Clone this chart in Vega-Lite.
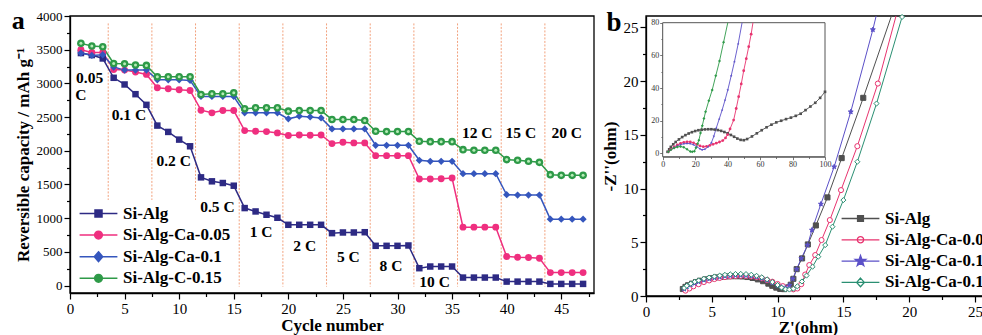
{
"$schema": "https://vega.github.io/schema/vega-lite/v6.json",
"width": 982, "height": 335, "padding": 0,
"autosize": {"type": "none"},
"background": "white",
"config": {
  "view": {"stroke": null},
  "axis": {"grid": false, "domainColor": "black", "tickColor": "black", "labelColor": "black", "titleColor": "black", "labelFont": "Liberation Serif", "titleFont": "Liberation Serif", "titleFontWeight": "bold", "domainWidth": 1.3, "tickWidth": 1.2, "labelOverlap": false, "labelFlush": false}
},
"datasets": {
  "rate": [
{"cycle":1,"series":"Si-Alg","cap":3450},{"cycle":2,"series":"Si-Alg","cap":3420},{"cycle":3,"series":"Si-Alg","cap":3370},{"cycle":4,"series":"Si-Alg","cap":3083},{"cycle":5,"series":"Si-Alg","cap":2984},{"cycle":6,"series":"Si-Alg","cap":2840},{"cycle":7,"series":"Si-Alg","cap":2682},{"cycle":8,"series":"Si-Alg","cap":2374},{"cycle":9,"series":"Si-Alg","cap":2280},{"cycle":10,"series":"Si-Alg","cap":2166},{"cycle":11,"series":"Si-Alg","cap":2067},{"cycle":12,"series":"Si-Alg","cap":1606},{"cycle":13,"series":"Si-Alg","cap":1547},{"cycle":14,"series":"Si-Alg","cap":1522},{"cycle":15,"series":"Si-Alg","cap":1482},{"cycle":16,"series":"Si-Alg","cap":1150},{"cycle":17,"series":"Si-Alg","cap":1100},{"cycle":18,"series":"Si-Alg","cap":1051},{"cycle":19,"series":"Si-Alg","cap":1006},{"cycle":20,"series":"Si-Alg","cap":902},{"cycle":21,"series":"Si-Alg","cap":902},{"cycle":22,"series":"Si-Alg","cap":902},{"cycle":23,"series":"Si-Alg","cap":902},{"cycle":24,"series":"Si-Alg","cap":778},{"cycle":25,"series":"Si-Alg","cap":788},{"cycle":26,"series":"Si-Alg","cap":788},{"cycle":27,"series":"Si-Alg","cap":792},{"cycle":28,"series":"Si-Alg","cap":590},{"cycle":29,"series":"Si-Alg","cap":590},{"cycle":30,"series":"Si-Alg","cap":590},{"cycle":31,"series":"Si-Alg","cap":595},{"cycle":32,"series":"Si-Alg","cap":258},{"cycle":33,"series":"Si-Alg","cap":283},{"cycle":34,"series":"Si-Alg","cap":283},{"cycle":35,"series":"Si-Alg","cap":283},{"cycle":36,"series":"Si-Alg","cap":119},{"cycle":37,"series":"Si-Alg","cap":119},{"cycle":38,"series":"Si-Alg","cap":119},{"cycle":39,"series":"Si-Alg","cap":119},{"cycle":40,"series":"Si-Alg","cap":59},{"cycle":41,"series":"Si-Alg","cap":59},{"cycle":42,"series":"Si-Alg","cap":59},{"cycle":43,"series":"Si-Alg","cap":59},{"cycle":44,"series":"Si-Alg","cap":25},{"cycle":45,"series":"Si-Alg","cap":25},{"cycle":46,"series":"Si-Alg","cap":25},{"cycle":47,"series":"Si-Alg","cap":25},
{"cycle":1,"series":"Si-Alg-Ca-0.05","cap":3500},{"cycle":2,"series":"Si-Alg-Ca-0.05","cap":3460},{"cycle":3,"series":"Si-Alg-Ca-0.05","cap":3460},{"cycle":4,"series":"Si-Alg-Ca-0.05","cap":3207},{"cycle":5,"series":"Si-Alg-Ca-0.05","cap":3197},{"cycle":6,"series":"Si-Alg-Ca-0.05","cap":3168},{"cycle":7,"series":"Si-Alg-Ca-0.05","cap":3133},{"cycle":8,"series":"Si-Alg-Ca-0.05","cap":2935},{"cycle":9,"series":"Si-Alg-Ca-0.05","cap":2920},{"cycle":10,"series":"Si-Alg-Ca-0.05","cap":2905},{"cycle":11,"series":"Si-Alg-Ca-0.05","cap":2895},{"cycle":12,"series":"Si-Alg-Ca-0.05","cap":2602},{"cycle":13,"series":"Si-Alg-Ca-0.05","cap":2563},{"cycle":14,"series":"Si-Alg-Ca-0.05","cap":2597},{"cycle":15,"series":"Si-Alg-Ca-0.05","cap":2597},{"cycle":16,"series":"Si-Alg-Ca-0.05","cap":2300},{"cycle":17,"series":"Si-Alg-Ca-0.05","cap":2290},{"cycle":18,"series":"Si-Alg-Ca-0.05","cap":2285},{"cycle":19,"series":"Si-Alg-Ca-0.05","cap":2265},{"cycle":20,"series":"Si-Alg-Ca-0.05","cap":2226},{"cycle":21,"series":"Si-Alg-Ca-0.05","cap":2235},{"cycle":22,"series":"Si-Alg-Ca-0.05","cap":2230},{"cycle":23,"series":"Si-Alg-Ca-0.05","cap":2235},{"cycle":24,"series":"Si-Alg-Ca-0.05","cap":2107},{"cycle":25,"series":"Si-Alg-Ca-0.05","cap":2127},{"cycle":26,"series":"Si-Alg-Ca-0.05","cap":2117},{"cycle":27,"series":"Si-Alg-Ca-0.05","cap":2117},{"cycle":28,"series":"Si-Alg-Ca-0.05","cap":1928},{"cycle":29,"series":"Si-Alg-Ca-0.05","cap":1928},{"cycle":30,"series":"Si-Alg-Ca-0.05","cap":1928},{"cycle":31,"series":"Si-Alg-Ca-0.05","cap":1928},{"cycle":32,"series":"Si-Alg-Ca-0.05","cap":1581},{"cycle":33,"series":"Si-Alg-Ca-0.05","cap":1581},{"cycle":34,"series":"Si-Alg-Ca-0.05","cap":1586},{"cycle":35,"series":"Si-Alg-Ca-0.05","cap":1596},{"cycle":36,"series":"Si-Alg-Ca-0.05","cap":867},{"cycle":37,"series":"Si-Alg-Ca-0.05","cap":867},{"cycle":38,"series":"Si-Alg-Ca-0.05","cap":867},{"cycle":39,"series":"Si-Alg-Ca-0.05","cap":867},{"cycle":40,"series":"Si-Alg-Ca-0.05","cap":431},{"cycle":41,"series":"Si-Alg-Ca-0.05","cap":421},{"cycle":42,"series":"Si-Alg-Ca-0.05","cap":416},{"cycle":43,"series":"Si-Alg-Ca-0.05","cap":406},{"cycle":44,"series":"Si-Alg-Ca-0.05","cap":193},{"cycle":45,"series":"Si-Alg-Ca-0.05","cap":193},{"cycle":46,"series":"Si-Alg-Ca-0.05","cap":193},{"cycle":47,"series":"Si-Alg-Ca-0.05","cap":193},
{"cycle":1,"series":"Si-Alg-Ca-0.1","cap":3450},{"cycle":2,"series":"Si-Alg-Ca-0.1","cap":3415},{"cycle":3,"series":"Si-Alg-Ca-0.1","cap":3425},{"cycle":4,"series":"Si-Alg-Ca-0.1","cap":3242},{"cycle":5,"series":"Si-Alg-Ca-0.1","cap":3197},{"cycle":6,"series":"Si-Alg-Ca-0.1","cap":3197},{"cycle":7,"series":"Si-Alg-Ca-0.1","cap":3197},{"cycle":8,"series":"Si-Alg-Ca-0.1","cap":3053},{"cycle":9,"series":"Si-Alg-Ca-0.1","cap":3053},{"cycle":10,"series":"Si-Alg-Ca-0.1","cap":3053},{"cycle":11,"series":"Si-Alg-Ca-0.1","cap":3044},{"cycle":12,"series":"Si-Alg-Ca-0.1","cap":2806},{"cycle":13,"series":"Si-Alg-Ca-0.1","cap":2806},{"cycle":14,"series":"Si-Alg-Ca-0.1","cap":2806},{"cycle":15,"series":"Si-Alg-Ca-0.1","cap":2806},{"cycle":16,"series":"Si-Alg-Ca-0.1","cap":2563},{"cycle":17,"series":"Si-Alg-Ca-0.1","cap":2563},{"cycle":18,"series":"Si-Alg-Ca-0.1","cap":2563},{"cycle":19,"series":"Si-Alg-Ca-0.1","cap":2563},{"cycle":20,"series":"Si-Alg-Ca-0.1","cap":2474},{"cycle":21,"series":"Si-Alg-Ca-0.1","cap":2513},{"cycle":22,"series":"Si-Alg-Ca-0.1","cap":2503},{"cycle":23,"series":"Si-Alg-Ca-0.1","cap":2488},{"cycle":24,"series":"Si-Alg-Ca-0.1","cap":2325},{"cycle":25,"series":"Si-Alg-Ca-0.1","cap":2325},{"cycle":26,"series":"Si-Alg-Ca-0.1","cap":2325},{"cycle":27,"series":"Si-Alg-Ca-0.1","cap":2325},{"cycle":28,"series":"Si-Alg-Ca-0.1","cap":2082},{"cycle":29,"series":"Si-Alg-Ca-0.1","cap":2082},{"cycle":30,"series":"Si-Alg-Ca-0.1","cap":2082},{"cycle":31,"series":"Si-Alg-Ca-0.1","cap":2082},{"cycle":32,"series":"Si-Alg-Ca-0.1","cap":1859},{"cycle":33,"series":"Si-Alg-Ca-0.1","cap":1844},{"cycle":34,"series":"Si-Alg-Ca-0.1","cap":1844},{"cycle":35,"series":"Si-Alg-Ca-0.1","cap":1844},{"cycle":36,"series":"Si-Alg-Ca-0.1","cap":1661},{"cycle":37,"series":"Si-Alg-Ca-0.1","cap":1661},{"cycle":38,"series":"Si-Alg-Ca-0.1","cap":1661},{"cycle":39,"series":"Si-Alg-Ca-0.1","cap":1661},{"cycle":40,"series":"Si-Alg-Ca-0.1","cap":1348},{"cycle":41,"series":"Si-Alg-Ca-0.1","cap":1343},{"cycle":42,"series":"Si-Alg-Ca-0.1","cap":1343},{"cycle":43,"series":"Si-Alg-Ca-0.1","cap":1343},{"cycle":44,"series":"Si-Alg-Ca-0.1","cap":986},{"cycle":45,"series":"Si-Alg-Ca-0.1","cap":986},{"cycle":46,"series":"Si-Alg-Ca-0.1","cap":986},{"cycle":47,"series":"Si-Alg-Ca-0.1","cap":986},
{"cycle":1,"series":"Si-Alg-C-0.15","cap":3594},{"cycle":2,"series":"Si-Alg-C-0.15","cap":3554},{"cycle":3,"series":"Si-Alg-C-0.15","cap":3544},{"cycle":4,"series":"Si-Alg-C-0.15","cap":3296},{"cycle":5,"series":"Si-Alg-C-0.15","cap":3291},{"cycle":6,"series":"Si-Alg-C-0.15","cap":3272},{"cycle":7,"series":"Si-Alg-C-0.15","cap":3267},{"cycle":8,"series":"Si-Alg-C-0.15","cap":3098},{"cycle":9,"series":"Si-Alg-C-0.15","cap":3098},{"cycle":10,"series":"Si-Alg-C-0.15","cap":3098},{"cycle":11,"series":"Si-Alg-C-0.15","cap":3098},{"cycle":12,"series":"Si-Alg-C-0.15","cap":2835},{"cycle":13,"series":"Si-Alg-C-0.15","cap":2845},{"cycle":14,"series":"Si-Alg-C-0.15","cap":2845},{"cycle":15,"series":"Si-Alg-C-0.15","cap":2860},{"cycle":16,"series":"Si-Alg-C-0.15","cap":2622},{"cycle":17,"series":"Si-Alg-C-0.15","cap":2637},{"cycle":18,"series":"Si-Alg-C-0.15","cap":2637},{"cycle":19,"series":"Si-Alg-C-0.15","cap":2637},{"cycle":20,"series":"Si-Alg-C-0.15","cap":2588},{"cycle":21,"series":"Si-Alg-C-0.15","cap":2597},{"cycle":22,"series":"Si-Alg-C-0.15","cap":2597},{"cycle":23,"series":"Si-Alg-C-0.15","cap":2597},{"cycle":24,"series":"Si-Alg-C-0.15","cap":2464},{"cycle":25,"series":"Si-Alg-C-0.15","cap":2464},{"cycle":26,"series":"Si-Alg-C-0.15","cap":2464},{"cycle":27,"series":"Si-Alg-C-0.15","cap":2449},{"cycle":28,"series":"Si-Alg-C-0.15","cap":2290},{"cycle":29,"series":"Si-Alg-C-0.15","cap":2285},{"cycle":30,"series":"Si-Alg-C-0.15","cap":2285},{"cycle":31,"series":"Si-Alg-C-0.15","cap":2285},{"cycle":32,"series":"Si-Alg-C-0.15","cap":2141},{"cycle":33,"series":"Si-Alg-C-0.15","cap":2136},{"cycle":34,"series":"Si-Alg-C-0.15","cap":2136},{"cycle":35,"series":"Si-Alg-C-0.15","cap":2136},{"cycle":36,"series":"Si-Alg-C-0.15","cap":2017},{"cycle":37,"series":"Si-Alg-C-0.15","cap":2008},{"cycle":38,"series":"Si-Alg-C-0.15","cap":2008},{"cycle":39,"series":"Si-Alg-C-0.15","cap":2008},{"cycle":40,"series":"Si-Alg-C-0.15","cap":1869},{"cycle":41,"series":"Si-Alg-C-0.15","cap":1859},{"cycle":42,"series":"Si-Alg-C-0.15","cap":1844},{"cycle":43,"series":"Si-Alg-C-0.15","cap":1829},{"cycle":44,"series":"Si-Alg-C-0.15","cap":1646},{"cycle":45,"series":"Si-Alg-C-0.15","cap":1636},{"cycle":46,"series":"Si-Alg-C-0.15","cap":1636},{"cycle":47,"series":"Si-Alg-C-0.15","cap":1636}
  ],
  "bounds": [
{"xb":3.5,"top":3890,"bot":1270},{"xb":7.5,"top":3890,"bot":1270},{"xb":11.5,"top":3890,"bot":1270},{"xb":15.5,"top":3890,"bot":-15},{"xb":19.5,"top":3890,"bot":-15},{"xb":23.5,"top":3890,"bot":-15},{"xb":27.5,"top":3890,"bot":-15},{"xb":31.5,"top":3890,"bot":-15},{"xb":35.5,"top":3890,"bot":-15},{"xb":39.5,"top":3890,"bot":-15},{"xb":43.5,"top":3890,"bot":-15}
  ],
  "notes": [
{"label":"0.05","x":1.8,"y":3080},{"label":"C","x":1.0,"y":2828},{"label":"0.1 C","x":5.4,"y":2531},{"label":"0.2 C","x":9.5,"y":1848},{"label":"0.5 C","x":13.5,"y":1159},{"label":"1 C","x":17.5,"y":795},{"label":"2 C","x":21.5,"y":587},{"label":"5 C","x":25.5,"y":417},{"label":"8 C","x":29.4,"y":298},{"label":"10 C","x":33.4,"y":46},{"label":"12 C","x":37.3,"y":2271},{"label":"15 C","x":41.3,"y":2271},{"label":"20 C","x":45.5,"y":2271}
  ],
  "eis": [
{"series":"Si-Alg","i":1,"zre":2.8,"zim":0.65},{"series":"Si-Alg","i":2,"zre":3.0,"zim":0.85},{"series":"Si-Alg","i":3,"zre":3.2,"zim":1.0},{"series":"Si-Alg","i":4,"zre":3.5,"zim":1.15},{"series":"Si-Alg","i":5,"zre":3.8,"zim":1.3},{"series":"Si-Alg","i":6,"zre":4.1,"zim":1.42},{"series":"Si-Alg","i":7,"zre":4.5,"zim":1.55},{"series":"Si-Alg","i":8,"zre":4.9,"zim":1.65},{"series":"Si-Alg","i":9,"zre":5.3,"zim":1.73},{"series":"Si-Alg","i":10,"zre":5.7,"zim":1.78},{"series":"Si-Alg","i":11,"zre":6.1,"zim":1.82},{"series":"Si-Alg","i":12,"zre":6.5,"zim":1.84},{"series":"Si-Alg","i":13,"zre":6.9,"zim":1.84},{"series":"Si-Alg","i":14,"zre":7.3,"zim":1.82},{"series":"Si-Alg","i":15,"zre":7.7,"zim":1.77},{"series":"Si-Alg","i":16,"zre":8.1,"zim":1.68},{"series":"Si-Alg","i":17,"zre":8.5,"zim":1.55},{"series":"Si-Alg","i":18,"zre":8.9,"zim":1.38},{"series":"Si-Alg","i":19,"zre":9.3,"zim":1.15},{"series":"Si-Alg","i":20,"zre":9.6,"zim":0.95},{"series":"Si-Alg","i":21,"zre":9.9,"zim":0.78},{"series":"Si-Alg","i":22,"zre":10.2,"zim":0.66},{"series":"Si-Alg","i":23,"zre":10.5,"zim":0.64},{"series":"Si-Alg","i":24,"zre":10.8,"zim":0.8},{"series":"Si-Alg","i":25,"zre":11.0,"zim":1.05},{"series":"Si-Alg","i":26,"zre":11.2,"zim":1.6},{"series":"Si-Alg","i":27,"zre":11.45,"zim":2.5},{"series":"Si-Alg","i":28,"zre":11.86,"zim":3.5},{"series":"Si-Alg","i":29,"zre":12.3,"zim":4.8},{"series":"Si-Alg","i":30,"zre":12.91,"zim":6.57},{"series":"Si-Alg","i":31,"zre":13.79,"zim":9.18},{"series":"Si-Alg","i":32,"zre":14.87,"zim":12.84},{"series":"Si-Alg","i":33,"zre":16.51,"zim":18.45},{"series":"Si-Alg","i":34,"zre":18.65,"zim":26.07},
{"series":"Si-Alg-Ca-0.05","i":1,"zre":3.0,"zim":0.5},{"series":"Si-Alg-Ca-0.05","i":2,"zre":3.3,"zim":0.7},{"series":"Si-Alg-Ca-0.05","i":3,"zre":3.6,"zim":0.9},{"series":"Si-Alg-Ca-0.05","i":4,"zre":4.0,"zim":1.1},{"series":"Si-Alg-Ca-0.05","i":5,"zre":4.4,"zim":1.3},{"series":"Si-Alg-Ca-0.05","i":6,"zre":4.8,"zim":1.45},{"series":"Si-Alg-Ca-0.05","i":7,"zre":5.2,"zim":1.58},{"series":"Si-Alg-Ca-0.05","i":8,"zre":5.6,"zim":1.68},{"series":"Si-Alg-Ca-0.05","i":9,"zre":6.0,"zim":1.76},{"series":"Si-Alg-Ca-0.05","i":10,"zre":6.4,"zim":1.82},{"series":"Si-Alg-Ca-0.05","i":11,"zre":6.8,"zim":1.86},{"series":"Si-Alg-Ca-0.05","i":12,"zre":7.2,"zim":1.88},{"series":"Si-Alg-Ca-0.05","i":13,"zre":7.6,"zim":1.87},{"series":"Si-Alg-Ca-0.05","i":14,"zre":8.0,"zim":1.83},{"series":"Si-Alg-Ca-0.05","i":15,"zre":8.4,"zim":1.76},{"series":"Si-Alg-Ca-0.05","i":16,"zre":8.8,"zim":1.65},{"series":"Si-Alg-Ca-0.05","i":17,"zre":9.2,"zim":1.5},{"series":"Si-Alg-Ca-0.05","i":18,"zre":9.6,"zim":1.33},{"series":"Si-Alg-Ca-0.05","i":19,"zre":10.0,"zim":1.12},{"series":"Si-Alg-Ca-0.05","i":20,"zre":10.4,"zim":0.92},{"series":"Si-Alg-Ca-0.05","i":21,"zre":10.8,"zim":0.75},{"series":"Si-Alg-Ca-0.05","i":22,"zre":11.2,"zim":0.62},{"series":"Si-Alg-Ca-0.05","i":23,"zre":11.5,"zim":0.7},{"series":"Si-Alg-Ca-0.05","i":24,"zre":11.8,"zim":1.1},{"series":"Si-Alg-Ca-0.05","i":25,"zre":12.1,"zim":2.0},{"series":"Si-Alg-Ca-0.05","i":26,"zre":12.41,"zim":2.88},{"series":"Si-Alg-Ca-0.05","i":27,"zre":12.86,"zim":3.81},{"series":"Si-Alg-Ca-0.05","i":28,"zre":13.34,"zim":5.21},{"series":"Si-Alg-Ca-0.05","i":29,"zre":13.97,"zim":7.07},{"series":"Si-Alg-Ca-0.05","i":30,"zre":14.82,"zim":9.86},{"series":"Si-Alg-Ca-0.05","i":31,"zre":16.06,"zim":13.95},{"series":"Si-Alg-Ca-0.05","i":32,"zre":17.62,"zim":19.78},{"series":"Si-Alg-Ca-0.05","i":33,"zre":19.0,"zim":26.07},
{"series":"Si-Alg-Ca-0.1","i":1,"zre":2.9,"zim":0.65},{"series":"Si-Alg-Ca-0.1","i":2,"zre":3.1,"zim":0.85},{"series":"Si-Alg-Ca-0.1","i":3,"zre":3.4,"zim":1.05},{"series":"Si-Alg-Ca-0.1","i":4,"zre":3.7,"zim":1.2},{"series":"Si-Alg-Ca-0.1","i":5,"zre":4.0,"zim":1.33},{"series":"Si-Alg-Ca-0.1","i":6,"zre":4.4,"zim":1.48},{"series":"Si-Alg-Ca-0.1","i":7,"zre":4.8,"zim":1.6},{"series":"Si-Alg-Ca-0.1","i":8,"zre":5.2,"zim":1.7},{"series":"Si-Alg-Ca-0.1","i":9,"zre":5.6,"zim":1.78},{"series":"Si-Alg-Ca-0.1","i":10,"zre":6.0,"zim":1.85},{"series":"Si-Alg-Ca-0.1","i":11,"zre":6.4,"zim":1.9},{"series":"Si-Alg-Ca-0.1","i":12,"zre":6.8,"zim":1.93},{"series":"Si-Alg-Ca-0.1","i":13,"zre":7.2,"zim":1.94},{"series":"Si-Alg-Ca-0.1","i":14,"zre":7.6,"zim":1.92},{"series":"Si-Alg-Ca-0.1","i":15,"zre":8.0,"zim":1.87},{"series":"Si-Alg-Ca-0.1","i":16,"zre":8.4,"zim":1.78},{"series":"Si-Alg-Ca-0.1","i":17,"zre":8.8,"zim":1.65},{"series":"Si-Alg-Ca-0.1","i":18,"zre":9.2,"zim":1.47},{"series":"Si-Alg-Ca-0.1","i":19,"zre":9.6,"zim":1.25},{"series":"Si-Alg-Ca-0.1","i":20,"zre":10.0,"zim":1.0},{"series":"Si-Alg-Ca-0.1","i":21,"zre":10.3,"zim":0.82},{"series":"Si-Alg-Ca-0.1","i":22,"zre":10.6,"zim":0.75},{"series":"Si-Alg-Ca-0.1","i":23,"zre":10.9,"zim":1.0},{"series":"Si-Alg-Ca-0.1","i":24,"zre":11.15,"zim":1.6},{"series":"Si-Alg-Ca-0.1","i":25,"zre":11.45,"zim":2.5},{"series":"Si-Alg-Ca-0.1","i":26,"zre":11.8,"zim":3.5},{"series":"Si-Alg-Ca-0.1","i":27,"zre":12.28,"zim":4.74},{"series":"Si-Alg-Ca-0.1","i":28,"zre":12.61,"zim":6.14},{"series":"Si-Alg-Ca-0.1","i":29,"zre":13.29,"zim":8.56},{"series":"Si-Alg-Ca-0.1","i":30,"zre":14.3,"zim":12.03},{"series":"Si-Alg-Ca-0.1","i":31,"zre":15.56,"zim":17.15},{"series":"Si-Alg-Ca-0.1","i":32,"zre":17.24,"zim":24.8},{"series":"Si-Alg-Ca-0.1","i":33,"zre":17.49,"zim":26.07},
{"series":"Si-Alg-Ca-0.15","i":1,"zre":2.9,"zim":0.75},{"series":"Si-Alg-Ca-0.15","i":2,"zre":3.1,"zim":0.95},{"series":"Si-Alg-Ca-0.15","i":3,"zre":3.4,"zim":1.15},{"series":"Si-Alg-Ca-0.15","i":4,"zre":3.7,"zim":1.32},{"series":"Si-Alg-Ca-0.15","i":5,"zre":4.0,"zim":1.45},{"series":"Si-Alg-Ca-0.15","i":6,"zre":4.4,"zim":1.6},{"series":"Si-Alg-Ca-0.15","i":7,"zre":4.8,"zim":1.72},{"series":"Si-Alg-Ca-0.15","i":8,"zre":5.2,"zim":1.82},{"series":"Si-Alg-Ca-0.15","i":9,"zre":5.6,"zim":1.9},{"series":"Si-Alg-Ca-0.15","i":10,"zre":6.0,"zim":1.97},{"series":"Si-Alg-Ca-0.15","i":11,"zre":6.4,"zim":2.02},{"series":"Si-Alg-Ca-0.15","i":12,"zre":6.8,"zim":2.05},{"series":"Si-Alg-Ca-0.15","i":13,"zre":7.2,"zim":2.06},{"series":"Si-Alg-Ca-0.15","i":14,"zre":7.6,"zim":2.04},{"series":"Si-Alg-Ca-0.15","i":15,"zre":8.0,"zim":1.98},{"series":"Si-Alg-Ca-0.15","i":16,"zre":8.4,"zim":1.88},{"series":"Si-Alg-Ca-0.15","i":17,"zre":8.8,"zim":1.74},{"series":"Si-Alg-Ca-0.15","i":18,"zre":9.2,"zim":1.55},{"series":"Si-Alg-Ca-0.15","i":19,"zre":9.6,"zim":1.3},{"series":"Si-Alg-Ca-0.15","i":20,"zre":10.0,"zim":1.02},{"series":"Si-Alg-Ca-0.15","i":21,"zre":10.3,"zim":0.78},{"series":"Si-Alg-Ca-0.15","i":22,"zre":10.6,"zim":0.62},{"series":"Si-Alg-Ca-0.15","i":23,"zre":10.9,"zim":0.6},{"series":"Si-Alg-Ca-0.15","i":24,"zre":11.2,"zim":0.68},{"series":"Si-Alg-Ca-0.15","i":25,"zre":11.5,"zim":0.9},{"series":"Si-Alg-Ca-0.15","i":26,"zre":11.85,"zim":1.35},{"series":"Si-Alg-Ca-0.15","i":27,"zre":12.2,"zim":1.9},{"series":"Si-Alg-Ca-0.15","i":28,"zre":12.66,"zim":2.73},{"series":"Si-Alg-Ca-0.15","i":29,"zre":13.09,"zim":3.66},{"series":"Si-Alg-Ca-0.15","i":30,"zre":13.62,"zim":4.74},{"series":"Si-Alg-Ca-0.15","i":31,"zre":14.17,"zim":6.45},{"series":"Si-Alg-Ca-0.15","i":32,"zre":15.0,"zim":8.93},{"series":"Si-Alg-Ca-0.15","i":33,"zre":16.06,"zim":12.5},{"series":"Si-Alg-Ca-0.15","i":34,"zre":17.52,"zim":17.92},{"series":"Si-Alg-Ca-0.15","i":35,"zre":19.46,"zim":25.98},{"series":"Si-Alg-Ca-0.15","i":36,"zre":19.49,"zim":26.07}
  ],
  "inset": [
{"series":"Si-Alg","i":1,"zre":3,"zim":1},{"series":"Si-Alg","i":2,"zre":4,"zim":2.5},{"series":"Si-Alg","i":3,"zre":5,"zim":4},{"series":"Si-Alg","i":4,"zre":6.5,"zim":5.6},{"series":"Si-Alg","i":5,"zre":8,"zim":7},{"series":"Si-Alg","i":6,"zre":10,"zim":8.6},{"series":"Si-Alg","i":7,"zre":12,"zim":10},{"series":"Si-Alg","i":8,"zre":14,"zim":11.2},{"series":"Si-Alg","i":9,"zre":16,"zim":12.2},{"series":"Si-Alg","i":10,"zre":18,"zim":13},{"series":"Si-Alg","i":11,"zre":20,"zim":13.7},{"series":"Si-Alg","i":12,"zre":22,"zim":14.2},{"series":"Si-Alg","i":13,"zre":24,"zim":14.5},{"series":"Si-Alg","i":14,"zre":26,"zim":14.7},{"series":"Si-Alg","i":15,"zre":28,"zim":14.8},{"series":"Si-Alg","i":16,"zre":30,"zim":14.8},{"series":"Si-Alg","i":17,"zre":32,"zim":14.6},{"series":"Si-Alg","i":18,"zre":34,"zim":14.3},{"series":"Si-Alg","i":19,"zre":36,"zim":13.8},{"series":"Si-Alg","i":20,"zre":38,"zim":13.1},{"series":"Si-Alg","i":21,"zre":40,"zim":12.3},{"series":"Si-Alg","i":22,"zre":42,"zim":11.3},{"series":"Si-Alg","i":23,"zre":44,"zim":10.2},{"series":"Si-Alg","i":24,"zre":46,"zim":9.1},{"series":"Si-Alg","i":25,"zre":48,"zim":8.3},{"series":"Si-Alg","i":26,"zre":50,"zim":8.1},{"series":"Si-Alg","i":27,"zre":52,"zim":8.8},{"series":"Si-Alg","i":28,"zre":55,"zim":10.4},{"series":"Si-Alg","i":29,"zre":58,"zim":12.3},{"series":"Si-Alg","i":30,"zre":61,"zim":14.2},{"series":"Si-Alg","i":31,"zre":64,"zim":16},{"series":"Si-Alg","i":32,"zre":67,"zim":17.6},{"series":"Si-Alg","i":33,"zre":70,"zim":19},{"series":"Si-Alg","i":34,"zre":73,"zim":20},{"series":"Si-Alg","i":35,"zre":76,"zim":21},{"series":"Si-Alg","i":36,"zre":79,"zim":21.9},{"series":"Si-Alg","i":37,"zre":82,"zim":23},{"series":"Si-Alg","i":38,"zre":85,"zim":24.3},{"series":"Si-Alg","i":39,"zre":88,"zim":26.5},{"series":"Si-Alg","i":40,"zre":91,"zim":28.7},{"series":"Si-Alg","i":41,"zre":94,"zim":31},{"series":"Si-Alg","i":42,"zre":97,"zim":34},{"series":"Si-Alg","i":43,"zre":100,"zim":37.7},
{"series":"Si-Alg-Ca-0.05","i":1,"zre":3.5,"zim":1},{"series":"Si-Alg-Ca-0.05","i":2,"zre":5,"zim":2.5},{"series":"Si-Alg-Ca-0.05","i":3,"zre":7,"zim":4},{"series":"Si-Alg-Ca-0.05","i":4,"zre":9,"zim":5.2},{"series":"Si-Alg-Ca-0.05","i":5,"zre":11,"zim":6.2},{"series":"Si-Alg-Ca-0.05","i":6,"zre":13,"zim":6.8},{"series":"Si-Alg-Ca-0.05","i":7,"zre":15,"zim":7.1},{"series":"Si-Alg-Ca-0.05","i":8,"zre":17,"zim":7},{"series":"Si-Alg-Ca-0.05","i":9,"zre":19,"zim":6.5},{"series":"Si-Alg-Ca-0.05","i":10,"zre":21,"zim":5.6},{"series":"Si-Alg-Ca-0.05","i":11,"zre":23,"zim":4.6},{"series":"Si-Alg-Ca-0.05","i":12,"zre":25,"zim":4.1},{"series":"Si-Alg-Ca-0.05","i":13,"zre":27,"zim":4.3},{"series":"Si-Alg-Ca-0.05","i":14,"zre":29,"zim":4.9},{"series":"Si-Alg-Ca-0.05","i":15,"zre":31,"zim":5.6},{"series":"Si-Alg-Ca-0.05","i":16,"zre":33,"zim":6.3},{"series":"Si-Alg-Ca-0.05","i":17,"zre":35,"zim":7},{"series":"Si-Alg-Ca-0.05","i":18,"zre":37,"zim":7.9},{"series":"Si-Alg-Ca-0.05","i":19,"zre":38.7,"zim":9.5},{"series":"Si-Alg-Ca-0.05","i":20,"zre":40,"zim":11.5},{"series":"Si-Alg-Ca-0.05","i":21,"zre":41.5,"zim":15},{"series":"Si-Alg-Ca-0.05","i":22,"zre":43.7,"zim":20.4},{"series":"Si-Alg-Ca-0.05","i":23,"zre":45.3,"zim":27.5},{"series":"Si-Alg-Ca-0.05","i":24,"zre":46.8,"zim":34.7},{"series":"Si-Alg-Ca-0.05","i":25,"zre":48.4,"zim":42.5},{"series":"Si-Alg-Ca-0.05","i":26,"zre":49.9,"zim":50.6},{"series":"Si-Alg-Ca-0.05","i":27,"zre":51.5,"zim":58},{"series":"Si-Alg-Ca-0.05","i":28,"zre":53,"zim":65.3},{"series":"Si-Alg-Ca-0.05","i":29,"zre":54.5,"zim":73},{"series":"Si-Alg-Ca-0.05","i":30,"zre":55.6,"zim":80},
{"series":"Si-Alg-Ca-0.1","i":1,"zre":3.5,"zim":1},{"series":"Si-Alg-Ca-0.1","i":2,"zre":5,"zim":2.3},{"series":"Si-Alg-Ca-0.1","i":3,"zre":7,"zim":3.6},{"series":"Si-Alg-Ca-0.1","i":4,"zre":9,"zim":4.6},{"series":"Si-Alg-Ca-0.1","i":5,"zre":11,"zim":5.4},{"series":"Si-Alg-Ca-0.1","i":6,"zre":13,"zim":5.9},{"series":"Si-Alg-Ca-0.1","i":7,"zre":15,"zim":6.1},{"series":"Si-Alg-Ca-0.1","i":8,"zre":17,"zim":6},{"series":"Si-Alg-Ca-0.1","i":9,"zre":19,"zim":5.3},{"series":"Si-Alg-Ca-0.1","i":10,"zre":21,"zim":4.1},{"series":"Si-Alg-Ca-0.1","i":11,"zre":23,"zim":2.8},{"series":"Si-Alg-Ca-0.1","i":12,"zre":24.3,"zim":2.2},{"series":"Si-Alg-Ca-0.1","i":13,"zre":26,"zim":2.6},{"series":"Si-Alg-Ca-0.1","i":14,"zre":28,"zim":4},{"series":"Si-Alg-Ca-0.1","i":15,"zre":30,"zim":6.5},{"series":"Si-Alg-Ca-0.1","i":16,"zre":31.5,"zim":10.5},{"series":"Si-Alg-Ca-0.1","i":17,"zre":33,"zim":15.5},{"series":"Si-Alg-Ca-0.1","i":18,"zre":34.8,"zim":21},{"series":"Si-Alg-Ca-0.1","i":19,"zre":36.6,"zim":26.5},{"series":"Si-Alg-Ca-0.1","i":20,"zre":38.4,"zim":32.6},{"series":"Si-Alg-Ca-0.1","i":21,"zre":40.1,"zim":38.8},{"series":"Si-Alg-Ca-0.1","i":22,"zre":42.2,"zim":47.5},{"series":"Si-Alg-Ca-0.1","i":23,"zre":44.2,"zim":56.1},{"series":"Si-Alg-Ca-0.1","i":24,"zre":46.5,"zim":67},{"series":"Si-Alg-Ca-0.1","i":25,"zre":48.9,"zim":80},
{"series":"Si-Alg-Ca-0.15","i":1,"zre":3.5,"zim":1},{"series":"Si-Alg-Ca-0.15","i":2,"zre":5,"zim":2.2},{"series":"Si-Alg-Ca-0.15","i":3,"zre":7,"zim":3.3},{"series":"Si-Alg-Ca-0.15","i":4,"zre":9,"zim":4},{"series":"Si-Alg-Ca-0.15","i":5,"zre":11,"zim":4.2},{"series":"Si-Alg-Ca-0.15","i":6,"zre":13,"zim":3.8},{"series":"Si-Alg-Ca-0.15","i":7,"zre":15,"zim":2.5},{"series":"Si-Alg-Ca-0.15","i":8,"zre":17,"zim":1.2},{"series":"Si-Alg-Ca-0.15","i":9,"zre":18.2,"zim":1},{"series":"Si-Alg-Ca-0.15","i":10,"zre":19.5,"zim":1.4},{"series":"Si-Alg-Ca-0.15","i":11,"zre":20.5,"zim":3.5},{"series":"Si-Alg-Ca-0.15","i":12,"zre":21.5,"zim":6},{"series":"Si-Alg-Ca-0.15","i":13,"zre":22.3,"zim":8.1},{"series":"Si-Alg-Ca-0.15","i":14,"zre":23.3,"zim":12.5},{"series":"Si-Alg-Ca-0.15","i":15,"zre":24.4,"zim":17},{"series":"Si-Alg-Ca-0.15","i":16,"zre":25.4,"zim":21.3},{"series":"Si-Alg-Ca-0.15","i":17,"zre":26.4,"zim":25.5},{"series":"Si-Alg-Ca-0.15","i":18,"zre":28.4,"zim":32.2},{"series":"Si-Alg-Ca-0.15","i":19,"zre":30.5,"zim":38.8},{"series":"Si-Alg-Ca-0.15","i":20,"zre":32.7,"zim":47.5},{"series":"Si-Alg-Ca-0.15","i":21,"zre":35,"zim":56.5},{"series":"Si-Alg-Ca-0.15","i":22,"zre":37.5,"zim":68},{"series":"Si-Alg-Ca-0.15","i":23,"zre":40.1,"zim":80}
  ],
  "panelA": [{"t":"a","x":-4.73,"y":3814}],
  "panelB": [{"t":"b","x":-2.43,"y":24.67}],
  "one": [{"k":1}]
},
"resolve": {"scale": {"x":"independent","y":"independent","color":"independent","fill":"independent","stroke":"independent","shape":"independent","size":"independent"}},
"layer": [
  {"data": {"name": "bounds"},
   "mark": {"type": "rule", "stroke": "#f2a27e", "strokeWidth": 1, "strokeDash": [2, 1.5]},
   "encoding": {
     "x": {"field": "xb", "type": "quantitative", "scale": {"domain": [0,48], "range": [70,594], "nice": false, "zero": false}, "axis": null},
     "y": {"field": "top", "type": "quantitative", "scale": {"domain": [-110,4000], "range": [293,16], "nice": false, "zero": false}, "axis": null},
     "y2": {"field": "bot"}
   }},
  {"data": {"name": "one"},
   "mark": {"type": "rect", "fill": "transparent", "stroke": "black", "strokeWidth": 1.3},
   "encoding": {
     "x": {"datum": 0, "type": "quantitative", "scale": {"domain": [0,48], "range": [70,594], "nice": false, "zero": false},
       "axis": {"orient": "bottom", "offset": -42, "values": [0,2.5,5,7.5,10,12.5,15,17.5,20,22.5,25,27.5,30,32.5,35,37.5,40,42.5,45,47.5], "format": "d", "labelExpr": "datum.value % 5 === 0 ? datum.label : ''", "tickSize": {"condition": {"test": "datum.value % 5 === 0", "value": 6}, "value": 3.5}, "labelFontSize": 15, "labelPadding": 2, "title": "Cycle number", "titleFontSize": 17, "titlePadding": 1}},
     "x2": {"datum": 48},
     "y": {"datum": -110, "type": "quantitative", "scale": {"domain": [-110,4000], "range": [293,16], "nice": false, "zero": false},
       "axis": {"orient": "left", "offset": -70, "values": [0,250,500,750,1000,1250,1500,1750,2000,2250,2500,2750,3000,3250,3500,3750,4000], "format": "d", "labelExpr": "datum.value % 500 === 0 ? datum.label : ''", "tickSize": {"condition": {"test": "datum.value % 500 === 0", "value": 6}, "value": 3.5}, "labelFontSize": 13, "labelPadding": 2, "title": "Reversible capacity / mAh g⁻¹", "titleFontSize": 17, "titlePadding": 4}},
     "y2": {"datum": 4000}
   }},
  {"data": {"name": "rate"},
   "mark": {"type": "line", "strokeWidth": 1.5},
   "encoding": {
     "x": {"field": "cycle", "type": "quantitative", "scale": {"domain": [0,48], "range": [70,594], "nice": false, "zero": false}, "axis": null},
     "y": {"field": "cap", "type": "quantitative", "scale": {"domain": [-110,4000], "range": [293,16], "nice": false, "zero": false}, "axis": null},
     "color": {"field": "series", "type": "nominal", "scale": {"domain": ["Si-Alg","Si-Alg-Ca-0.05","Si-Alg-Ca-0.1","Si-Alg-C-0.15"], "range": ["#2d2a84","#ef2f7f","#3556bd","#2e9a48"]}, "legend": null}
   }},
  {"data": {"name": "rate"},
   "mark": {"type": "point", "filled": true, "opacity": 1},
   "encoding": {
     "x": {"field": "cycle", "type": "quantitative", "scale": {"domain": [0,48], "range": [70,594], "nice": false, "zero": false}, "axis": null},
     "y": {"field": "cap", "type": "quantitative", "scale": {"domain": [-110,4000], "range": [293,16], "nice": false, "zero": false}, "axis": null},
     "color": {"field": "series", "type": "nominal", "scale": {"domain": ["Si-Alg","Si-Alg-Ca-0.05","Si-Alg-Ca-0.1","Si-Alg-C-0.15"], "range": ["#2d2a84","#ef2f7f","#3556bd","#2e9a48"]}, "legend": null},
     "shape": {"field": "series", "type": "nominal", "scale": {"domain": ["Si-Alg","Si-Alg-Ca-0.05","Si-Alg-Ca-0.1","Si-Alg-C-0.15"], "range": ["square","circle","diamond","circle"]}, "legend": null},
     "size": {"field": "series", "type": "nominal", "scale": {"domain": ["Si-Alg","Si-Alg-Ca-0.05","Si-Alg-Ca-0.1","Si-Alg-C-0.15"], "range": [42,58,62,55]}, "legend": null}
   }},
  {"data": {"name": "rate"},
   "transform": [{"filter": "datum.series === 'Si-Alg-C-0.15'"}],
   "mark": {"type": "point", "filled": true, "opacity": 1, "size": 9, "color": "#b8ecb8"},
   "encoding": {
     "x": {"field": "cycle", "type": "quantitative", "scale": {"domain": [0,48], "range": [70,594], "nice": false, "zero": false}, "axis": null},
     "y": {"field": "cap", "type": "quantitative", "scale": {"domain": [-110,4000], "range": [293,16], "nice": false, "zero": false}, "axis": null}
   }},
  {"data": {"name": "notes"},
   "mark": {"type": "text", "font": "Liberation Serif", "fontWeight": "bold", "fontSize": 15.5, "align": "center", "baseline": "middle", "color": "black"},
   "encoding": {
     "x": {"field": "x", "type": "quantitative", "scale": {"domain": [0,48], "range": [70,594], "nice": false, "zero": false}, "axis": null},
     "y": {"field": "y", "type": "quantitative", "scale": {"domain": [-110,4000], "range": [293,16], "nice": false, "zero": false}, "axis": null},
     "text": {"field": "label"}
   }},
  {"data": {"name": "panelA"},
   "mark": {"type": "text", "font": "Liberation Serif", "fontWeight": "bold", "fontSize": 26, "align": "center", "baseline": "alphabetic", "color": "black"},
   "encoding": {
     "x": {"field": "x", "type": "quantitative", "scale": {"domain": [0,48], "range": [70,594], "nice": false, "zero": false}, "axis": null},
     "y": {"field": "y", "type": "quantitative", "scale": {"domain": [-110,4000], "range": [293,16], "nice": false, "zero": false}, "axis": null},
     "text": {"field": "t"}
   }},
  {"data": {"name": "rate"},
   "transform": [{"filter": "false"}],
   "mark": {"type": "point", "filled": true, "opacity": 1},
   "encoding": {
     "fill": {"field": "series", "type": "nominal", "scale": {"domain": ["Si-Alg","Si-Alg-Ca-0.05","Si-Alg-Ca-0.1","Si-Alg-C-0.15"], "range": ["#2d2a84","#ef2f7f","#3556bd","#2e9a48"]},
       "legend": {"title": null, "orient": "none", "legendX": 90, "legendY": 205, "symbolSize": 196, "symbolStrokeWidth": 1.5, "symbolOpacity": 1, "labelFont": "Liberation Serif", "labelFontSize": 17, "labelFontWeight": "bold", "labelColor": "black", "labelOffset": 16, "rowPadding": 3.6, "padding": 0, "labelLimit": 400}},
     "stroke": {"field": "series", "type": "nominal", "scale": {"domain": ["Si-Alg","Si-Alg-Ca-0.05","Si-Alg-Ca-0.1","Si-Alg-C-0.15"], "range": ["#2d2a84","#ef2f7f","#3556bd","#2e9a48"]},
       "legend": {"title": null, "orient": "none", "legendX": 90, "legendY": 205, "symbolSize": 196, "symbolStrokeWidth": 1.5, "symbolOpacity": 1, "labelFont": "Liberation Serif", "labelFontSize": 17, "labelFontWeight": "bold", "labelColor": "black", "labelOffset": 16, "rowPadding": 3.6, "padding": 0, "labelLimit": 400}},
     "shape": {"field": "series", "type": "nominal", "scale": {"domain": ["Si-Alg","Si-Alg-Ca-0.05","Si-Alg-Ca-0.1","Si-Alg-C-0.15"], "range": ["M-2.7,0H2.7M-0.5,-0.5H0.5V0.5H-0.5Z","M-2.7,0H2.7M-0.55,0A0.55,0.55,0,1,1,0.55,0A0.55,0.55,0,1,1,-0.55,0Z","M-2.7,0H2.7M0,-0.7L0.6,0L0,0.7L-0.6,0Z","M-2.7,0H2.7M-0.55,0A0.55,0.55,0,1,1,0.55,0A0.55,0.55,0,1,1,-0.55,0Z"]},
       "legend": {"title": null, "orient": "none", "legendX": 90, "legendY": 205, "symbolSize": 196, "symbolStrokeWidth": 1.5, "symbolOpacity": 1, "labelFont": "Liberation Serif", "labelFontSize": 17, "labelFontWeight": "bold", "labelColor": "black", "labelOffset": 16, "rowPadding": 3.6, "padding": 0, "labelLimit": 400}}
   }},

  {"data": {"name": "one"},
   "mark": {"type": "rect", "fill": "transparent", "stroke": "black", "strokeWidth": 1.3},
   "encoding": {
     "x": {"datum": 0, "type": "quantitative", "scale": {"domain": [0,25.8], "range": [646,985.5], "nice": false, "zero": false},
       "axis": {"orient": "bottom", "offset": -39, "values": [0,2.5,5,7.5,10,12.5,15,17.5,20,22.5,25], "format": "d", "labelExpr": "datum.value % 5 === 0 ? datum.label : ''", "tickSize": {"condition": {"test": "datum.value % 5 === 0", "value": 6}, "value": 3.5}, "labelFontSize": 15, "labelPadding": 2, "title": "Z'(ohm)", "titleFontSize": 17, "titlePadding": 0, "titleX": 808}},
     "x2": {"datum": 25.8},
     "y": {"datum": 0, "type": "quantitative", "scale": {"domain": [0,26.07], "range": [296,16], "nice": false, "zero": false},
       "axis": {"orient": "left", "offset": -646, "values": [0,2.5,5,7.5,10,12.5,15,17.5,20,22.5,25], "format": "d", "labelExpr": "datum.value % 5 === 0 ? datum.label : ''", "tickSize": {"condition": {"test": "datum.value % 5 === 0", "value": 6}, "value": 3.5}, "labelFontSize": 15, "labelPadding": 2, "title": "-Z''(ohm)", "titleFontSize": 17, "titlePadding": 4}},
     "y2": {"datum": 26.07}
   }},
  {"data": {"name": "eis"},
   "mark": {"type": "line", "strokeWidth": 1},
   "encoding": {
     "x": {"field": "zre", "type": "quantitative", "scale": {"domain": [0,25.8], "range": [646,985.5], "nice": false, "zero": false}, "axis": null},
     "y": {"field": "zim", "type": "quantitative", "scale": {"domain": [0,26.07], "range": [296,16], "nice": false, "zero": false}, "axis": null},
     "order": {"field": "i", "type": "quantitative"},
     "color": {"field": "series", "type": "nominal", "scale": {"domain": ["Si-Alg","Si-Alg-Ca-0.05","Si-Alg-Ca-0.1","Si-Alg-Ca-0.15"], "range": ["#505050","#e8336f","#5b50c8","#2a8f72"]}, "legend": null}
   }},
  {"data": {"name": "eis"},
   "transform": [{"filter": "datum.zim < 26"}],
   "mark": {"type": "point", "opacity": 1, "strokeWidth": 1},
   "encoding": {
     "x": {"field": "zre", "type": "quantitative", "scale": {"domain": [0,25.8], "range": [646,985.5], "nice": false, "zero": false}, "axis": null},
     "y": {"field": "zim", "type": "quantitative", "scale": {"domain": [0,26.07], "range": [296,16], "nice": false, "zero": false}, "axis": null},
     "fill": {"field": "series", "type": "nominal", "scale": {"domain": ["Si-Alg","Si-Alg-Ca-0.05","Si-Alg-Ca-0.1","Si-Alg-Ca-0.15"], "range": ["#505050","#ffffff","#5b50c8","#ffffff"]}, "legend": null},
     "stroke": {"field": "series", "type": "nominal", "scale": {"domain": ["Si-Alg","Si-Alg-Ca-0.05","Si-Alg-Ca-0.1","Si-Alg-Ca-0.15"], "range": ["#505050","#e8336f","#5b50c8","#2a8f72"]}, "legend": null},
     "shape": {"field": "series", "type": "nominal", "scale": {"domain": ["Si-Alg","Si-Alg-Ca-0.05","Si-Alg-Ca-0.1","Si-Alg-Ca-0.15"], "range": ["square","circle","M0,-1L0.235,-0.324L0.951,-0.309L0.38,0.124L0.588,0.809L0,0.4L-0.588,0.809L-0.38,0.124L-0.951,-0.309L-0.235,-0.324Z","diamond"]}, "legend": null},
     "size": {"field": "series", "type": "nominal", "scale": {"domain": ["Si-Alg","Si-Alg-Ca-0.05","Si-Alg-Ca-0.1","Si-Alg-Ca-0.15"], "range": [26,26,60,34]}, "legend": null}
   }},
  {"data": {"name": "panelB"},
   "mark": {"type": "text", "font": "Liberation Serif", "fontWeight": "bold", "fontSize": 27, "align": "center", "baseline": "alphabetic", "color": "black"},
   "encoding": {
     "x": {"field": "x", "type": "quantitative", "scale": {"domain": [0,25.8], "range": [646,985.5], "nice": false, "zero": false}, "axis": null},
     "y": {"field": "y", "type": "quantitative", "scale": {"domain": [0,26.07], "range": [296,16], "nice": false, "zero": false}, "axis": null},
     "text": {"field": "t"}
   }},
  {"data": {"name": "eis"},
   "transform": [{"filter": "false"}],
   "mark": {"type": "point", "filled": true, "opacity": 1},
   "encoding": {
     "fill": {"field": "series", "type": "nominal", "scale": {"domain": ["Si-Alg","Si-Alg-Ca-0.05","Si-Alg-Ca-0.1","Si-Alg-Ca-0.15"], "range": ["#505050","#ffffff","#5b50c8","#ffffff"]},
       "legend": {"title": null, "orient": "none", "legendX": 852, "legendY": 210, "symbolSize": 196, "symbolStrokeWidth": 1.3, "symbolOpacity": 1, "labelFont": "Liberation Serif", "labelFontSize": 17, "labelFontWeight": "bold", "labelColor": "black", "labelOffset": 16, "rowPadding": 3.3, "padding": 0, "labelLimit": 400}},
     "stroke": {"field": "series", "type": "nominal", "scale": {"domain": ["Si-Alg","Si-Alg-Ca-0.05","Si-Alg-Ca-0.1","Si-Alg-Ca-0.15"], "range": ["#505050","#e8336f","#5b50c8","#2a8f72"]},
       "legend": {"title": null, "orient": "none", "legendX": 852, "legendY": 210, "symbolSize": 196, "symbolStrokeWidth": 1.3, "symbolOpacity": 1, "labelFont": "Liberation Serif", "labelFontSize": 17, "labelFontWeight": "bold", "labelColor": "black", "labelOffset": 16, "rowPadding": 3.3, "padding": 0, "labelLimit": 400}},
     "shape": {"field": "series", "type": "nominal", "scale": {"domain": ["Si-Alg","Si-Alg-Ca-0.05","Si-Alg-Ca-0.1","Si-Alg-Ca-0.15"], "range": ["M-2.7,0H2.7M-0.42,-0.42H0.42V0.42H-0.42Z","M-2.7,0H2.7M-0.45,0A0.45,0.45,0,1,1,0.45,0A0.45,0.45,0,1,1,-0.45,0Z","M-2.7,0H2.7M0,-0.8L0.188,-0.259L0.761,-0.247L0.304,0.099L0.47,0.647L0,0.32L-0.47,0.647L-0.304,0.099L-0.761,-0.247L-0.188,-0.259Z","M-2.7,0H2.7M0,-0.62L0.55,0L0,0.62L-0.55,0Z"]},
       "legend": {"title": null, "orient": "none", "legendX": 852, "legendY": 210, "symbolSize": 196, "symbolStrokeWidth": 1.3, "symbolOpacity": 1, "labelFont": "Liberation Serif", "labelFontSize": 17, "labelFontWeight": "bold", "labelColor": "black", "labelOffset": 16, "rowPadding": 3.3, "padding": 0, "labelLimit": 400}}
   }},

  {"data": {"name": "one"},
   "mark": {"type": "rect", "fill": "white", "stroke": "#555555", "strokeWidth": 1},
   "encoding": {
     "x": {"datum": 0, "type": "quantitative", "scale": {"domain": [0,100], "range": [662.7,825], "nice": false, "zero": false},
       "axis": {"orient": "bottom", "offset": -178.3, "values": [0,10,20,30,40,50,60,70,80,90,100], "format": "d", "labelExpr": "datum.value % 20 === 0 ? datum.label : ''", "tickSize": {"condition": {"test": "datum.value % 20 === 0", "value": 3}, "value": 1.8}, "labelFontSize": 8, "labelPadding": 1, "domainColor": "#555555", "tickColor": "#555555", "domainWidth": 1, "tickWidth": 0.8, "labelColor": "#333333", "title": null}},
     "x2": {"datum": 100},
     "y": {"datum": -2, "type": "quantitative", "scale": {"domain": [-2,80], "range": [156.7,22.7], "nice": false, "zero": false},
       "axis": {"orient": "left", "offset": -662.7, "values": [0,10,20,30,40,50,60,70,80], "format": "d", "labelExpr": "datum.value % 20 === 0 ? datum.label : ''", "tickSize": {"condition": {"test": "datum.value % 20 === 0", "value": 3}, "value": 1.8}, "labelFontSize": 8, "labelPadding": 1, "domainColor": "#555555", "tickColor": "#555555", "domainWidth": 1, "tickWidth": 0.8, "labelColor": "#333333", "title": null}},
     "y2": {"datum": 80}
   }},
  {"data": {"name": "inset"},
   "mark": {"type": "line", "strokeWidth": 0.9},
   "encoding": {
     "x": {"field": "zre", "type": "quantitative", "scale": {"domain": [0,100], "range": [662.7,825], "nice": false, "zero": false}, "axis": null},
     "y": {"field": "zim", "type": "quantitative", "scale": {"domain": [-2,80], "range": [156.7,22.7], "nice": false, "zero": false}, "axis": null},
     "order": {"field": "i", "type": "quantitative"},
     "color": {"field": "series", "type": "nominal", "scale": {"domain": ["Si-Alg","Si-Alg-Ca-0.05","Si-Alg-Ca-0.1","Si-Alg-Ca-0.15"], "range": ["#505050","#e8336f","#5b50c8","#2e9a48"]}, "legend": null}
   }},
  {"data": {"name": "inset"},
   "transform": [{"filter": "datum.zim < 79"}],
   "mark": {"type": "point", "filled": true, "opacity": 1},
   "encoding": {
     "x": {"field": "zre", "type": "quantitative", "scale": {"domain": [0,100], "range": [662.7,825], "nice": false, "zero": false}, "axis": null},
     "y": {"field": "zim", "type": "quantitative", "scale": {"domain": [-2,80], "range": [156.7,22.7], "nice": false, "zero": false}, "axis": null},
     "color": {"field": "series", "type": "nominal", "scale": {"domain": ["Si-Alg","Si-Alg-Ca-0.05","Si-Alg-Ca-0.1","Si-Alg-Ca-0.15"], "range": ["#505050","#e8336f","#5b50c8","#2e9a48"]}, "legend": null},
     "shape": {"field": "series", "type": "nominal", "scale": {"domain": ["Si-Alg","Si-Alg-Ca-0.05","Si-Alg-Ca-0.1","Si-Alg-Ca-0.15"], "range": ["square","circle","M0,-1L0.235,-0.324L0.951,-0.309L0.38,0.124L0.588,0.809L0,0.4L-0.588,0.809L-0.38,0.124L-0.951,-0.309L-0.235,-0.324Z","diamond"]}, "legend": null},
     "size": {"field": "series", "type": "nominal", "scale": {"domain": ["Si-Alg","Si-Alg-Ca-0.05","Si-Alg-Ca-0.1","Si-Alg-Ca-0.15"], "range": [7,9,16,12]}, "legend": null}
   }}
]
}
